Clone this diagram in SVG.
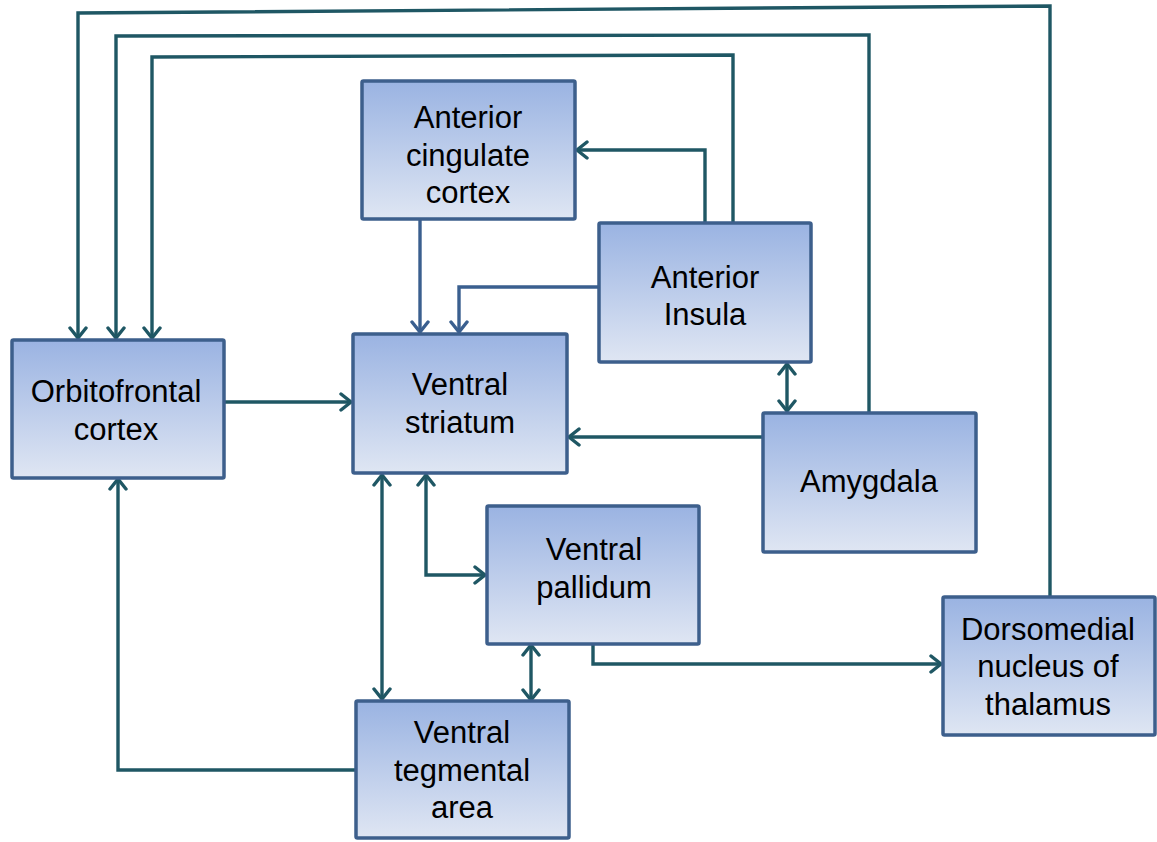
<svg xmlns="http://www.w3.org/2000/svg" width="1157" height="842" viewBox="0 0 1157 842">
<defs>
<linearGradient id="g" x1="0" y1="0" x2="0" y2="1">
<stop offset="0" stop-color="#9ab3e2"/>
<stop offset="1" stop-color="#dfe6f3"/>
</linearGradient>
<marker id="a" markerUnits="userSpaceOnUse" markerWidth="16" markerHeight="20" viewBox="-13 -10 16 20" refX="0" refY="0" orient="auto-start-reverse">
<path d="M-10,-8 L0,0 L-10,8" fill="none" stroke="#1f5764" stroke-width="3.4" stroke-linejoin="miter" stroke-linecap="round"/>
</marker>
<marker id="b" markerUnits="userSpaceOnUse" markerWidth="16" markerHeight="20" viewBox="-13 -10 16 20" refX="0" refY="0" orient="auto-start-reverse">
<path d="M-10,-8 L0,0 L-10,8" fill="none" stroke="#3a5f8f" stroke-width="3.4" stroke-linejoin="miter" stroke-linecap="round"/>
</marker>
</defs>
<style>
.box{fill:url(#g);stroke:#3d5f8c;stroke-width:3.5}
.t{font-family:"Liberation Sans",Arial,sans-serif;font-size:31px;fill:#000;text-anchor:middle}
.c{fill:none;stroke:#1f5764;stroke-width:3.4;stroke-linejoin:miter}
.cb{fill:none;stroke:#3a5f8f;stroke-width:3.4}
.e{marker-end:url(#a)}
.s{marker-start:url(#a)}
.eb{marker-end:url(#b)}
</style>
<rect width="1157" height="842" fill="#fff"/>
<g id="connectors">
<polyline class="c e" points="1050,597 1050,6 78,13 78,338"/>
<polyline class="c e" points="869,413 869,35 116,36 116,338"/>
<polyline class="c e" points="733,223 733,55 152,57 152,338"/>
<polyline class="c e" points="705,223 705,150 577,150"/>
<polyline class="cb eb" points="420,219 420,332"/>
<polyline class="cb eb" points="599,287 459,287 459,332"/>
<polyline class="c e" points="224,402 351,402"/>
<polyline class="c e" points="763,437 569,437"/>
<polyline class="c e s" points="787,364 787,411"/>
<polyline class="c e s" points="382,475 382,699"/>
<polyline class="c e s" points="426,475 426,575 485,575"/>
<polyline class="c e s" points="531,645 531,700"/>
<polyline class="c e" points="593,644 593,664 941,664"/>
<polyline class="c e" points="356,770 118,770 118,479"/>
</g>
<g id="ofc">
<rect class="box" x="12" y="340" width="212" height="138" rx="1.5"/>
<text class="t" x="116" y="402">Orbitofrontal</text>
<text class="t" x="116" y="440">cortex</text>
</g>
<g id="acc">
<rect class="box" x="362" y="81" width="213" height="138" rx="1.5"/>
<text class="t" x="468" y="128">Anterior</text>
<text class="t" x="468" y="166">cingulate</text>
<text class="t" x="468" y="203">cortex</text>
</g>
<g id="insula">
<rect class="box" x="599" y="223" width="212" height="139" rx="1.5"/>
<text class="t" x="705" y="288">Anterior</text>
<text class="t" x="705" y="325">Insula</text>
</g>
<g id="vs">
<rect class="box" x="353" y="334" width="214" height="139" rx="1.5"/>
<text class="t" x="460" y="395">Ventral</text>
<text class="t" x="460" y="433">striatum</text>
</g>
<g id="amygdala">
<rect class="box" x="763" y="413" width="213" height="139" rx="1.5"/>
<text class="t" x="869" y="492">Amygdala</text>
</g>
<g id="vp">
<rect class="box" x="487" y="506" width="212" height="138" rx="1.5"/>
<text class="t" x="594" y="560">Ventral</text>
<text class="t" x="594" y="598">pallidum</text>
</g>
<g id="dmt">
<rect class="box" x="943" y="597" width="212" height="138" rx="1.5"/>
<text class="t" x="1048" y="640">Dorsomedial</text>
<text class="t" x="1048" y="677">nucleus of</text>
<text class="t" x="1048" y="715">thalamus</text>
</g>
<g id="vta">
<rect class="box" x="356" y="701" width="213" height="137" rx="1.5"/>
<text class="t" x="462" y="743">Ventral</text>
<text class="t" x="462" y="781">tegmental</text>
<text class="t" x="462" y="818">area</text>
</g>
</svg>
